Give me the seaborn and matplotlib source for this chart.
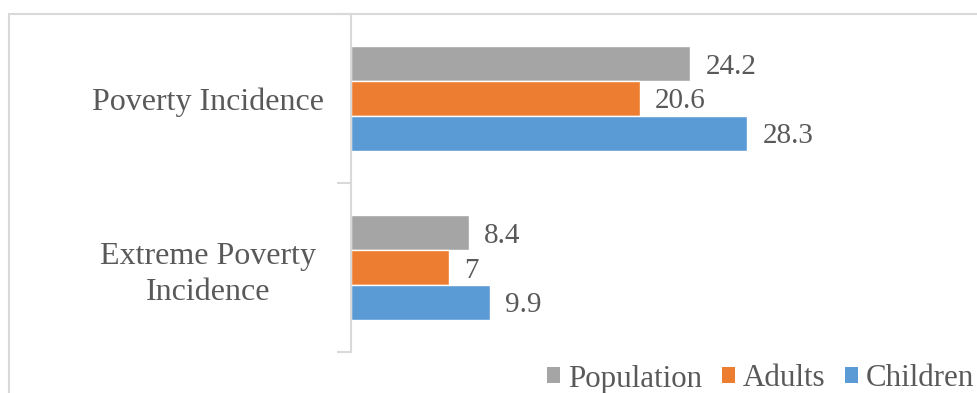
import matplotlib
matplotlib.use("Agg")
import matplotlib.pyplot as plt
import seaborn as sns
import pandas as pd
from matplotlib.patches import Rectangle, Patch

categories = ["Poverty Incidence", "Extreme Poverty\nIncidence"]
series = ["Population", "Adults", "Children"]
population = [24.2, 8.4]
adults = [20.6, 7]
children = [28.3, 9.9]
colors = ["#A5A5A5", "#ED7D31", "#5B9BD5"]

rows = []
for s, vals in zip(series, [population, adults, children]):
    for c, v in zip(categories, vals):
        rows.append({"category": c, "series": s, "value": v})
df = pd.DataFrame(rows)

sns.set_theme(style="white")
plt.rcParams['font.family'] = ['Liberation Serif', 'DejaVu Serif']
text_color = "#595959"
FS = 23

fig = plt.figure(figsize=(9.78, 3.93), dpi=100)
W, H = 978, 393
ax = fig.add_axes([351 / W, 1 - 352 / H, (980 - 351) / W, (352 - 14) / H])

sns.barplot(data=df, y="category", x="value", hue="series", order=categories,
            hue_order=series, palette=colors, orient="h", width=0.62,
            saturation=1, ax=ax, legend=False, errorbar=None)

for cont in ax.containers:
    labels = [("%g" % v) for v in cont.datavalues]
    txts = ax.bar_label(cont, labels=labels, padding=11, fontsize=21, color=text_color)
    for t in txts:
        t.set_va("center_baseline")

ax.set_xlim(0, (980 - 351) / 14.01)
ax.set_ylim(1.5, -0.5)
ax.set_xlabel("")
ax.set_ylabel("")
ax.set_xticks([])
for s in ["top", "right", "bottom"]:
    ax.spines[s].set_visible(False)
ax.spines["left"].set_color("#D9D9D9")
ax.spines["left"].set_linewidth(1.5)

ax.set_yticks([0, 1])
ax.set_yticklabels(categories, fontsize=FS, color=text_color, ha="center",
                   linespacing=1.3)
ax.tick_params(axis="y", which="major", length=0, pad=103)
ax.set_yticks([-0.5, 0.5, 1.5], minor=True)
ax.tick_params(axis="y", which="minor", length=10, width=1.5, color="#D9D9D9",
               left=True)

handles = [Patch(facecolor=c, edgecolor="none") for c in colors]
fig.legend(handles, series, loc="center right", bbox_to_anchor=(974 / W, 1 - 379 / H),
           ncol=3, frameon=False, fontsize=22.3, labelcolor=text_color,
           handlelength=0.42, handleheight=0.42, handletextpad=0.26,
           columnspacing=0.62, borderpad=0, borderaxespad=0)

fig.patches.append(Rectangle((9 / W, -0.1), 1.2, 1 - 14 / H + 0.1,
                             transform=fig.transFigure, fill=False,
                             edgecolor="#D9D9D9", linewidth=1.5, zorder=0))

fig.savefig("out.png", dpi=100)
